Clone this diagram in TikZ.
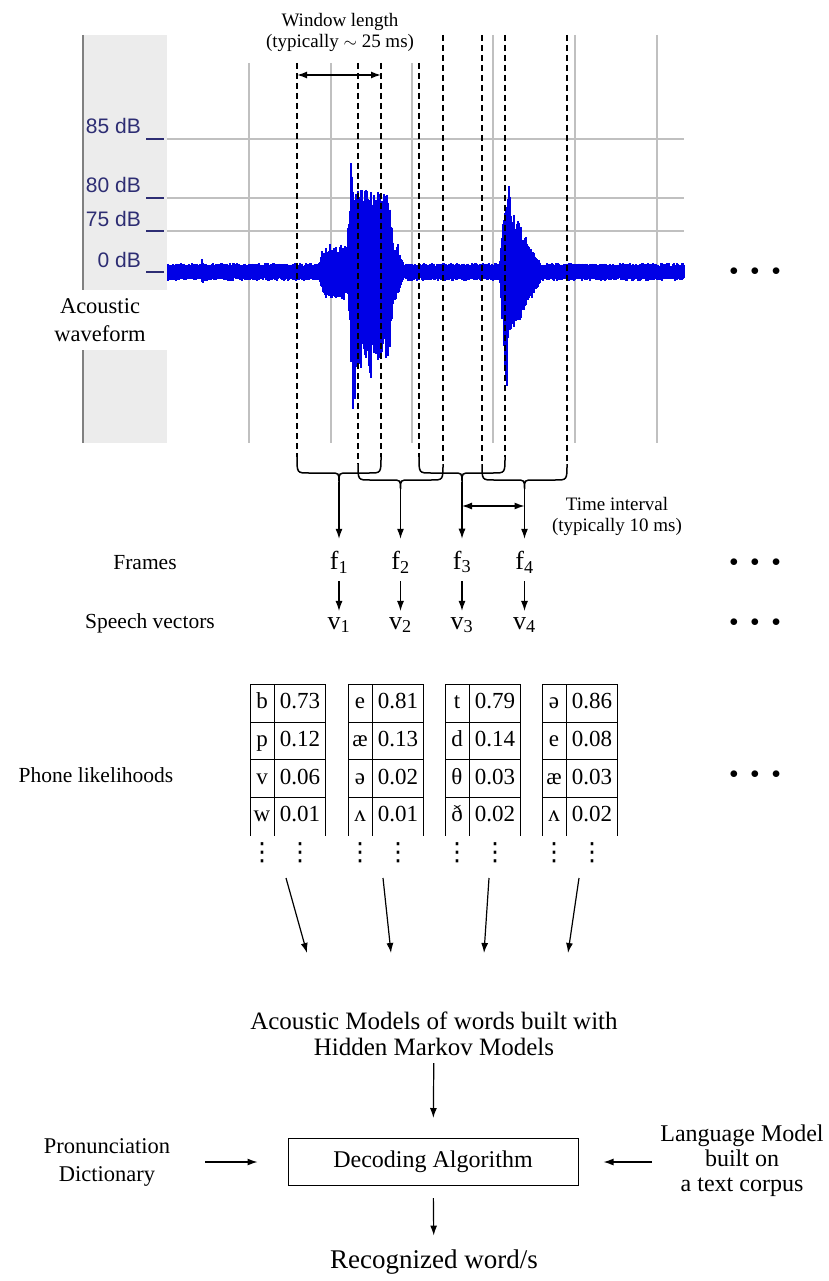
\documentclass[tikz,border=0pt]{standalone}
\usepackage{fontspec}
\setmainfont{Liberation Serif}
\newfontfamily\dbfamily{Liberation Sans}
\newfontfamily\symfamily{DejaVu Sans}
\usetikzlibrary{calc,arrows.meta}

\definecolor{panelgray}{RGB}{236,236,236}
\definecolor{gridgray}{RGB}{192,192,192}
\definecolor{dbblue}{RGB}{45,45,115}
\definecolor{wavecol}{RGB}{0,0,230}

% envelope helpers for the waveform (triangle and plateau)
\newcommand\trif[4]{max(0,min((#1-#2)/(#3-#2),(#4-#1)/(#4-#3)))}
\newcommand\platf[5]{max(0,min(1,(#1-#2)/(#3-#2),(#5-#1)/(#5-#4)))}

\newcommand\lblfont{\fontsize{21.5}{27}\selectfont}
\newcommand\smallfont{\fontsize{19}{21}\selectfont}
\newcommand\cellfont{\fontsize{23}{23}\selectfont}
\newcommand\vecfont{\fontsize{26}{26}\selectfont}

\tikzset{
  lbl/.style={font=\lblfont, align=center, inner sep=0pt},
  grid/.style={gridgray, line width=1.4pt},
  win/.style={dash pattern=on 6pt off 4pt, line width=1.5pt},
  brace/.style={line width=1.5pt},
  arr/.style={-{Latex[length=10pt,width=7pt]}, line width=1.2pt},
  dblarr/.style={{Latex[length=10pt,width=7pt]}-{Latex[length=10pt,width=7pt]}, line width=1.5pt},
  tab/.style={line width=1pt},
  cell/.style={font=\cellfont, inner sep=0pt, text height=16pt, text depth=5pt},
  vdot/.style={font=\symfamily\fontsize{25}{25}\selectfont, inner sep=0pt},
  more/.style={font=\fontsize{17}{17}\selectfont, inner sep=0pt},
}

\begin{document}
\begin{tikzpicture}[x=1pt,y=-1pt]
\useasboundingbox (0,0) rectangle (829,1281);

% level meter panel and grid
\fill[panelgray] (83,35) rectangle (167,443);
\draw[gray, line width=1.2pt] (83,35) -- (83,443);
\foreach \gx/\gtop in {249/63,331/63,412/63,493/35,575/35,657/35}
  \draw[grid] (\gx,\gtop) -- (\gx,443);
\foreach \gy in {139,198,231}
  \draw[grid] (167,\gy) -- (684,\gy);
\foreach \gy/\db in {139/85 dB,198/80 dB,231/75 dB,272/0 dB}{
  \node[font=\dbfamily\fontsize{21}{21}\selectfont, text=dbblue, anchor=base east, inner sep=0pt]
    (db\gy) at (141,\gy-5) {\db};
  \draw[dbblue, line width=1.6pt] (146,\gy) -- (164,\gy);
}

% waveform
\pgfmathsetseed{11}
\foreach \x in {168,...,684}{
  \pgfmathsetmacro\ampu{max(9, 14*\trif{\x}{197}{202}{207}, 28*\platf{\x}{316}{324}{398}{406},
    134*\trif{\x}{346}{352}{360}, 84*\platf{\x}{347}{352}{388}{397},
    113*\trif{\x}{502}{509}{514}, 62*\platf{\x}{499}{503}{512}{546})}
  \pgfmathsetmacro\ampd{max(9, 13*\trif{\x}{197}{203}{208}, 28*\platf{\x}{316}{324}{398}{406},
    160*\trif{\x}{347}{354}{360}, 128*\trif{\x}{364}{370}{376}, 96*\platf{\x}{347}{352}{388}{397},
    148*\trif{\x}{501}{506}{511}, 64*\platf{\x}{499}{503}{512}{546})}
  \pgfmathsetmacro\jitu{0.68+0.32*rnd}
  \pgfmathsetmacro\jitd{0.68+0.32*rnd}
  \draw[wavecol, line width=1.3pt] (\x,272-\ampu*\jitu) -- (\x,272+\ampd*\jitd);
}
\node[lbl, font=\fontsize{22.5}{28}\selectfont, fill=white, minimum width=134pt, minimum height=60pt]
  (wave) at (100,320) {Acoustic\\waveform};

% analysis windows and braces
\node[lbl, font=\smallfont] (wlen) at (340,32) {Window length\\(typically $\sim$ 25 ms)};
\foreach \xl/\xr/\tl/\tr/\yb/\nm in {297/381/63/63/473/1, 358/443/63/35/480/2,
                                    419/505/63/35/473/3, 482/567/35/35/480/4}{
  \pgfmathsetmacro\xc{(\xl+\xr)/2}
  \draw[win] (\xl,\tl) -- (\xl,\yb-16);
  \draw[win] (\xr,\tr) -- (\xr,\yb-16);
  \draw[brace] (\xl,\yb-16) .. controls (\xl,\yb) .. (\xl+12,\yb) -- (\xc-9,\yb)
    .. controls (\xc,\yb) .. (\xc,\yb+9) .. controls (\xc,\yb) .. (\xc+9,\yb)
    -- (\xr-12,\yb) .. controls (\xr,\yb) .. (\xr,\yb-16);
  \coordinate (w\nm) at (\xc,\yb+9);
  \coordinate (l\nm) at (\xl,75);
  \coordinate (r\nm) at (\xr,75);
  \coordinate (m\nm) at (\xc,506);
  \node[font=\vecfont, inner sep=0pt] (f\nm) at (\xc,562) {f\textsubscript{\nm}};
  \node[font=\vecfont, inner sep=0pt] (v\nm) at (\xc,625) {v\textsubscript{\nm}};
  \draw[arr, shorten >=12pt] (w\nm) -- (f\nm.north);
  \draw[arr, shorten <=8pt, shorten >=6pt] (f\nm.south) -- (v\nm.north);
}
\draw[dblarr] (l1) -- (r1);
\draw[dblarr, line width=1.2pt] (m3) -- (m4);
\node[lbl, font=\smallfont] (tint) at (617,516) {Time interval\\(typically 10 ms)};

% row labels
\node[lbl] (frames) at (145,563) {Frames};
\node[lbl] (svec) at (150,623) {Speech vectors};
\node[lbl] (plik) at (96,775) {Phone likelihoods};
\node[more] (more1) at (755,272) {$\bullet\mkern9mu\bullet\mkern9mu\bullet$};
\node[more] (more2) at (755,563) {$\bullet\mkern9mu\bullet\mkern9mu\bullet$};
\node[more] (more3) at (755,623) {$\bullet\mkern9mu\bullet\mkern9mu\bullet$};
\node[more] (more4) at (755,775) {$\bullet\mkern9mu\bullet\mkern9mu\bullet$};

% phone likelihood tables
\foreach \tx/\nm/\sx/\hx/\rows in {
    250/1/286/307/{b/0.73,p/0.12,v/0.06,w/0.01},
    348/2/383/391/{e/0.81,æ/0.13,ə/0.02,ʌ/0.01},
    445/3/489/484/{t/0.79,d/0.14,θ/0.03,ð/0.02},
    542/4/579/568/{ə/0.86,e/0.08,æ/0.03,ʌ/0.02}}{
  \foreach \hy in {684,722,759.5,797}
    \draw[tab] (\tx,\hy) -- (\tx+75,\hy);
  \foreach \vx in {0,24,75}
    \draw[tab] (\tx+\vx,684) -- (\tx+\vx,836);
  \foreach \ph/\pr [count=\rw] in \rows {
    \node[cell] (p\nm-\rw) at (\tx+12,665.5+37.67*\rw) {\ph};
    \node[cell] (q\nm-\rw) at (\tx+50,665.5+37.67*\rw) {\pr};
  }
  \node[vdot] (dl\nm) at (\tx+12,853) {⋮};
  \node[vdot] (dr\nm) at (\tx+50,853) {⋮};
  \coordinate (s\nm) at (\sx,878);
  \coordinate (h\nm) at (\hx,953);
  \draw[arr] (s\nm) -- (h\nm);
}

% decoding stage
\node[lbl, font=\fontsize{25}{26}\selectfont] (am) at (434,1034)
  {Acoustic Models of words built with\\Hidden Markov Models};
\node[draw, line width=1pt, minimum width=290pt, minimum height=47pt,
  font=\fontsize{24}{24}\selectfont] (dec) at (433,1162) {Decoding Algorithm};
\node[lbl, font=\fontsize{22.5}{28}\selectfont] (pron) at (107,1162) {Pronunciation\\Dictionary};
\node[lbl, font=\fontsize{24}{25}\selectfont] (lm) at (742,1161) {Language Model\\built on\\a text corpus};
\node[lbl, font=\fontsize{27}{27}\selectfont] (rec) at (434,1262) {Recognized word/s};
\draw[arr, shorten <=7pt, shorten >=20pt] (am) -- (dec);
\draw[arr, shorten <=35pt, shorten >=30pt] (pron.east) -- (dec.west);
\draw[arr, shorten <=8pt, shorten >=25pt] (dec.east -| lm.west) -- (dec.east);
\draw[arr, shorten <=12pt, shorten >=14pt] (dec) -- (rec);
\end{tikzpicture}
\end{document}
